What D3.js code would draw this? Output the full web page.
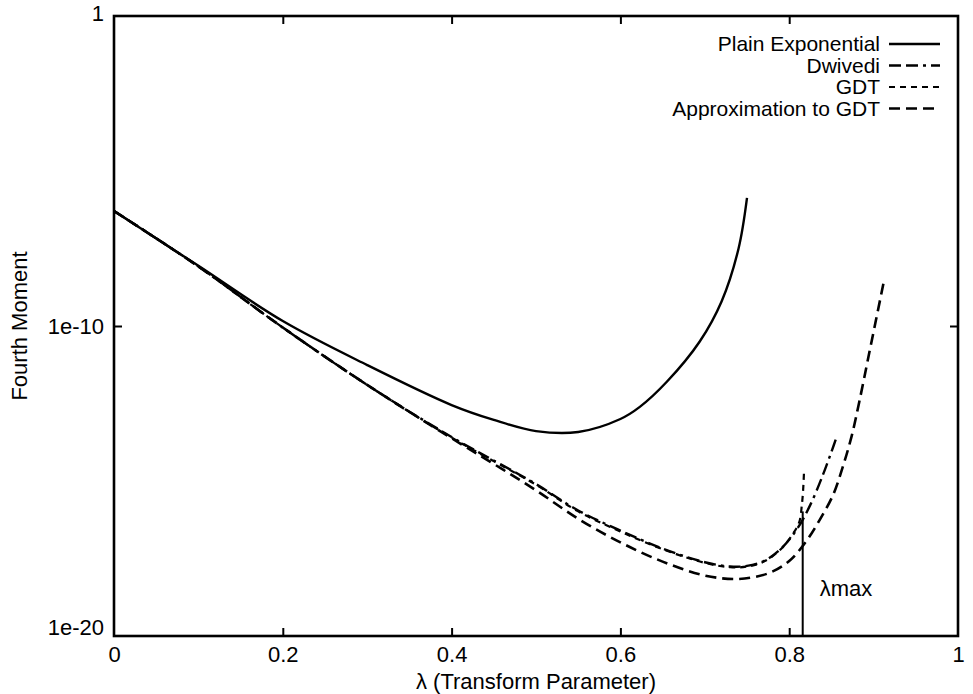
<!DOCTYPE html>
<html>
<head>
<meta charset="utf-8">
<script src="https://cdn.jsdelivr.net/npm/d3@7"></script>
<style>
  body { margin: 0; background: #fff; }
  text { font-family: "Liberation Sans", Arial, Helvetica, sans-serif; fill: #000; }
</style>
</head>
<body>
<script>
// lambda (transform parameter) and log10 of the fourth moment
var plainLambda = [0, 0.1, 0.2, 0.3, 0.4, 0.45, 0.5, 0.55, 0.6, 0.623, 0.655, 0.694, 0.72, 0.74, 0.75];
var plainLog    = [-6.29, -8.06, -9.84, -11.26, -12.55, -13.03, -13.39, -13.42, -13.0, -12.61, -11.8, -10.5, -9.2, -7.5, -5.87];

var dwivediLambda = [0, 0.1, 0.2, 0.3, 0.4, 0.5, 0.55, 0.6, 0.65, 0.7, 0.73, 0.75, 0.77, 0.79, 0.81, 0.825, 0.84, 0.85, 0.857];
var dwivediLog    = [-6.29, -8.08, -10.05, -11.9, -13.58, -15.1, -15.95, -16.6, -17.18, -17.62, -17.76, -17.74, -17.58, -17.19, -16.52, -15.77, -14.8, -14.06, -13.52];

var gdtLambda = [0, 0.1, 0.2, 0.3, 0.4, 0.5, 0.55, 0.6, 0.65, 0.7, 0.73, 0.75, 0.77, 0.79, 0.805, 0.812, 0.815, 0.8165, 0.8175];
var gdtLog    = [-6.29, -8.08, -10.05, -11.9, -13.6, -15.12, -15.98, -16.63, -17.2, -17.64, -17.78, -17.76, -17.6, -17.2, -16.68, -16.32, -15.77, -15.29, -14.74];

var approxLambda = [0, 0.1, 0.2, 0.3, 0.4, 0.45, 0.5, 0.55, 0.6, 0.65, 0.7, 0.74, 0.776, 0.8, 0.82, 0.836, 0.852, 0.864, 0.874, 0.883, 0.895, 0.913];
var approxLog    = [-6.29, -8.08, -10.05, -11.9, -13.62, -14.45, -15.3, -16.22, -16.98, -17.6, -18.05, -18.16, -17.97, -17.58, -16.95, -16.26, -15.45, -14.5, -13.55, -12.45, -10.85, -8.45];

var lambdaMax = 0.816;
var lambdaMaxTopLog = -15.98;

var xTicks = [0, 0.2, 0.4, 0.6, 0.8, 1];
var yTicks = [1e-20, 1e-10, 1];
var yTickLabels = ["1e-20", "1e-10", "1"];

var legendNames = ["Plain Exponential", "Dwivedi", "GDT", "Approximation to GDT"];

var W = 973, H = 694;
var pLeft = 114, pRight = 958, pTop = 16, pBottom = 636;

var svg = d3.select("body").append("svg")
    .attr("width", W)
    .attr("height", H);

var x = d3.scaleLinear().domain([0, 1]).range([pLeft, pRight]);
var y = d3.scaleLog().domain([1e-20, 1]).range([pBottom, pTop]);

function pts(ls, vs) {
    return ls.map(function(l, i) { return [l, Math.pow(10, vs[i])]; });
}

var series = [
    {name: legendNames[0], data: pts(plainLambda, plainLog), dash: null, w: 2.4},
    {name: legendNames[1], data: pts(dwivediLambda, dwivediLog), dash: "12,5,12,5,3,5", w: 2.4},
    {name: legendNames[2], data: pts(gdtLambda, gdtLog), dash: "6,5", w: 2.2},
    {name: legendNames[3], data: pts(approxLambda, approxLog), dash: "11,6", w: 2.6}
];

var line = d3.line()
    .x(function(d) { return x(d[0]); })
    .y(function(d) { return y(d[1]); })
    .curve(d3.curveCatmullRom.alpha(0.5));

svg.selectAll("path.curve")
    .data(series)
    .enter()
    .append("path")
    .attr("class", "curve")
    .attr("d", function(d) { return line(d.data); })
    .attr("fill", "none")
    .attr("stroke", "#000")
    .attr("stroke-width", function(d) { return d.w; })
    .attr("stroke-dasharray", function(d) { return d.dash; });

// lambda max marker
svg.append("line")
    .attr("x1", x(lambdaMax)).attr("x2", x(lambdaMax))
    .attr("y1", y(Math.pow(10, lambdaMaxTopLog))).attr("y2", pBottom)
    .attr("stroke", "#000")
    .attr("stroke-width", 2);

svg.append("text")
    .attr("x", x(lambdaMax) + 17)
    .attr("y", 596)
    .attr("font-size", "22px")
    .text("λmax");

// axes: bottom and top with inward ticks
var xAxisB = d3.axisBottom(x).tickValues(xTicks).tickSize(-8).tickPadding(10)
    .tickFormat(function(d) { return d; });
var gB = svg.append("g").attr("transform", "translate(0," + pBottom + ")").call(xAxisB);

var xAxisT = d3.axisTop(x).tickValues(xTicks.slice(1, 5)).tickSize(-8).tickFormat("");
var gT = svg.append("g").attr("transform", "translate(0," + pTop + ")").call(xAxisT);

var yAxisL = d3.axisLeft(y).tickValues(yTicks).tickSize(-8).tickPadding(10)
    .tickFormat(function(d, i) { return yTickLabels[i]; });
var gL = svg.append("g").attr("transform", "translate(" + pLeft + ",0)").call(yAxisL);

var yAxisR = d3.axisRight(y).tickValues([1e-10]).tickSize(-8).tickFormat("");
var gR = svg.append("g").attr("transform", "translate(" + pRight + ",0)").call(yAxisR);

[gB, gT, gL, gR].forEach(function(g) {
    g.select(".domain").remove();
    g.selectAll(".tick line").attr("stroke", "#000").attr("stroke-width", 2);
    g.selectAll("text").attr("font-size", "22px").attr("font-family", null);
});
gB.selectAll(".tick line").filter(function(d) { return d === 0 || d === 1; }).remove();
gL.selectAll(".tick line").filter(function(d) { return d !== 1e-10; }).remove();
gL.selectAll("text").attr("dy", function(d) { return d === 1e-20 ? "-0.05em" : (d === 1 ? "0.2em" : "0.32em"); });

// frame
svg.append("rect")
    .attr("x", pLeft).attr("y", pTop)
    .attr("width", pRight - pLeft).attr("height", pBottom - pTop)
    .attr("fill", "none")
    .attr("stroke", "#000")
    .attr("stroke-width", 2.6);

// axis titles
svg.append("text")
    .attr("x", (pLeft + pRight) / 2)
    .attr("y", 689)
    .attr("text-anchor", "middle")
    .attr("font-size", "22px")
    .text("λ (Transform Parameter)");

svg.append("text")
    .attr("transform", "translate(27," + (pBottom + pTop) / 2 + ") rotate(-90)")
    .attr("text-anchor", "middle")
    .attr("font-size", "22px")
    .text("Fourth Moment");

// legend
var leg = svg.selectAll("g.leg")
    .data(series)
    .enter()
    .append("g")
    .attr("class", "leg")
    .attr("transform", function(d, i) { return "translate(0," + (44 + i * 21.5) + ")"; });

leg.append("text")
    .attr("x", 880)
    .attr("dy", "0.35em")
    .attr("text-anchor", "end")
    .attr("font-size", "21px")
    .text(function(d) { return d.name; });

leg.append("line")
    .attr("x1", 889).attr("x2", 940)
    .attr("stroke", "#000")
    .attr("stroke-width", function(d) { return d.w; })
    .attr("stroke-dasharray", function(d) { return d.dash; });
</script>
</body>
</html>
